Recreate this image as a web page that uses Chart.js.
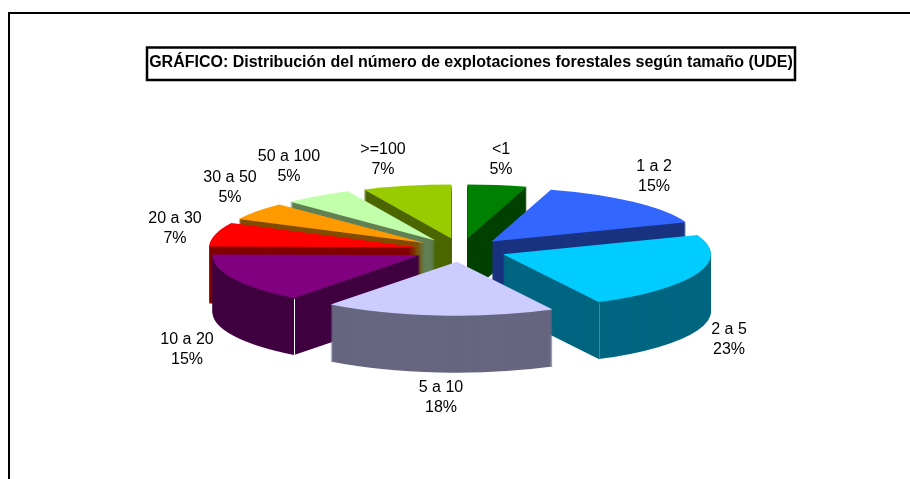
<!DOCTYPE html>
<html>
<head>
<meta charset="utf-8">
<script src="https://cdn.jsdelivr.net/npm/chart.js@4"></script>
<style>
html, body { margin: 0; padding: 0; background: #fff; overflow: hidden; }
#wrap { position: relative; width: 910px; height: 479px; }
</style>
</head>
<body>
<div id="wrap"><canvas id="chart" width="910" height="479"></canvas></div>
<script>
//data, the labels round these to whole percents
var categories = ['<1', '1 a 2', '2 a 5', '5 a 10', '10 a 20', '20 a 30', '30 a 50', '50 a 100', '>=100'];
var shares = [4.6, 14.6, 23.2, 18, 14.8, 7.2, 5.3, 5.4, 6.9];
var topColours = ['#008000', '#3366ff', '#00ccff', '#ccccff', '#800080', '#ff0000', '#ff9900', '#c2ffaa', '#99cc00'];
var sideColours = ['#004000', '#1a3380', '#006680', '#666680', '#400040', '#800000', '#804c00', '#618055', '#4c6600'];
var titleText = 'GRÁFICO: Distribución del número de explotaciones forestales según tamaño (UDE)';

//back to front, so nearer slices cover the ones behind them
var drawOrder = [0, 8, 7, 6, 5, 1, 4, 2, 3];
//centre of each text label, same order as categories
var labelSpots = [[501, 150], [654, 167], [729, 330], [441, 388], [187, 340], [175, 219], [230, 178], [289, 157], [383, 150]];

var pie3d = {
	centreX: 461, centreY: 250,
	radiusX: 208, radiusY: 54,
	explode: 45, depth: 57
};

//paints one arc element squashed into an ellipse, moved out along its mid angle
function paintArc(ctx, arc, colour, drop) {
	var mid = (arc.startAngle + arc.endAngle) / 2;
	var saved = arc.options;
	arc.options = Object.assign({}, saved, {backgroundColor: colour, borderWidth: 0});
	ctx.save();
	ctx.translate(pie3d.centreX + Math.cos(mid) * pie3d.explode,
		pie3d.centreY + Math.sin(mid) * pie3d.explode * pie3d.radiusY / pie3d.radiusX + drop);
	ctx.scale(pie3d.radiusX / arc.outerRadius, pie3d.radiusY / arc.outerRadius);
	ctx.translate(-arc.x, -arc.y);
	arc.draw(ctx);
	ctx.restore();
	arc.options = saved;
}

//thin pale line down the outer corner of a slice
function paintCorner(ctx, arc, angle, colour) {
	var mid = (arc.startAngle + arc.endAngle) / 2;
	var x = pie3d.centreX + Math.cos(mid) * pie3d.explode + Math.cos(angle) * pie3d.radiusX;
	var y = pie3d.centreY + Math.sin(mid) * pie3d.explode * pie3d.radiusY / pie3d.radiusX + Math.sin(angle) * pie3d.radiusY;
	ctx.strokeStyle = colour;
	ctx.lineWidth = 1;
	ctx.beginPath();
	ctx.moveTo(Math.round(x) + 0.5, y + 1);
	ctx.lineTo(Math.round(x) + 0.5, y + pie3d.depth);
	ctx.stroke();
}

var framePlugin = {
	id: 'frame',
	beforeDraw: function(chart) {
		var ctx = chart.ctx;
		ctx.save();
		ctx.fillStyle = '#000';
		ctx.fillRect(8, 12, 902, 2);
		ctx.fillRect(8, 12, 2, 467);
		ctx.restore();
	}
};

var pie3dPlugin = {
	id: 'pie3d',
	beforeDatasetDraw: function(chart, args) {
		var ctx = chart.ctx;
		var arcs = args.meta.data;
		drawOrder.forEach(function(i) {
			for (var d = pie3d.depth; d > 0; d--) {
				paintArc(ctx, arcs[i], sideColours[i], d);
			}
			if (i === 4) paintCorner(ctx, arcs[i], arcs[i].startAngle, '#ffffff');
			if (i === 2) paintCorner(ctx, arcs[i], arcs[i].endAngle, '#3d8ba3');
			paintArc(ctx, arcs[i], topColours[i], 0);
		});
		return false;
	},
	afterDatasetsDraw: function(chart) {
		var ctx = chart.ctx;
		ctx.save();
		ctx.fillStyle = '#000';
		ctx.font = '16px "Liberation Sans", Arial, sans-serif';
		ctx.textAlign = 'center';
		ctx.textBaseline = 'middle';
		categories.forEach(function(name, i) {
			ctx.fillText(name, labelSpots[i][0], labelSpots[i][1]);
			ctx.fillText(Math.round(shares[i]) + '%', labelSpots[i][0], labelSpots[i][1] + 20);
		});
		//box round the title
		var box = chart.titleBlock;
		ctx.strokeStyle = '#000';
		ctx.lineWidth = 2.5;
		ctx.strokeRect(147, 47.5, 648, 32.5);
		ctx.restore();
	}
};

var chart = new Chart(document.getElementById('chart').getContext('2d'), {
	type: 'pie',
	data: {
		labels: categories,
		datasets: [{
			data: shares,
			backgroundColor: topColours,
			borderWidth: 0
		}]
	},
	options: {
		responsive: false,
		animation: false,
		events: [],
		layout: { padding: { left: 32 } },
		plugins: {
			legend: { display: false },
			tooltip: { enabled: false },
			title: {
				display: true,
				text: titleText,
				color: '#000',
				font: { family: '"Liberation Sans", Arial, sans-serif', size: 16, weight: 'bold' },
				padding: { top: 53, bottom: 0 }
			}
		}
	},
	plugins: [framePlugin, pie3dPlugin]
});
</script>
</body>
</html>
